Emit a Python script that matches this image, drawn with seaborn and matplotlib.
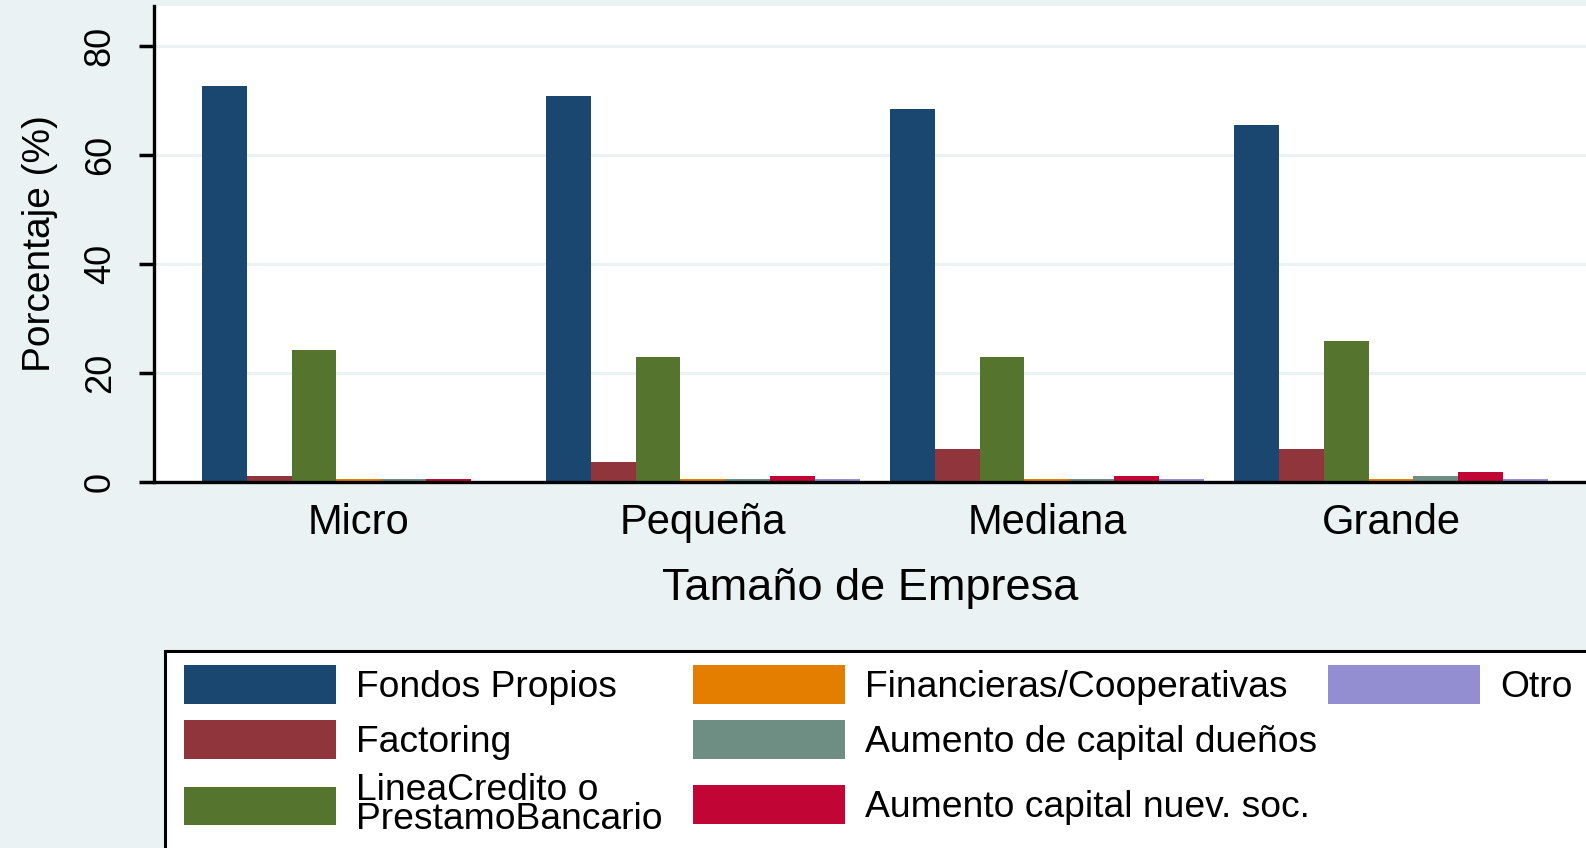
import matplotlib
matplotlib.use("Agg")
import matplotlib.pyplot as plt
from matplotlib.patches import Patch, Rectangle
import pandas as pd
import seaborn as sns

matplotlib.rc('font', family=['Liberation Sans', 'DejaVu Sans'])

# data
tamanos = ['Micro', 'Pequeña', 'Mediana', 'Grande']
fuentes = ['Fondos Propios', 'Factoring', 'LineaCredito o\nPrestamoBancario',
           'Financieras/Cooperativas', 'Aumento de capital dueños',
           'Aumento capital nuev. soc.', 'Otro']
fondos_propios = [72.6, 70.8, 68.4, 65.4]
factoring = [1.1, 3.5, 5.9, 5.9]
linea_credito = [24.2, 22.9, 22.9, 25.8]
financieras = [0.5, 0.5, 0.5, 0.5]
aumento_duenos = [0.5, 0.5, 0.5, 1.1]
aumento_nuev_soc = [0.5, 1.1, 1.1, 1.8]
otro = [0.0, 0.5, 0.5, 0.5]
yticks = [0, 20, 40, 60, 80]

series = [fondos_propios, factoring, linea_credito, financieras,
          aumento_duenos, aumento_nuev_soc, otro]
colores = ['#1A476F', '#90353B', '#55752F', '#E37E00',
           '#6E8E84', '#C10534', '#938DD2']

rows = []
for fuente, valores in zip(fuentes, series):
    for tam, v in zip(tamanos, valores):
        rows.append({'tamano': tam, 'fuente': fuente, 'pct': v})
df = pd.DataFrame(rows)

W, H = 1586, 848
bg = '#EAF2F3'
fig = plt.figure(figsize=(W / 100, H / 100), dpi=100, facecolor=bg)
ax = fig.add_axes([153.5 / W, 1 - 481.5 / H, 1 - 153.5 / W, (481.5 - 6) / H])
ax.set_facecolor('white')

sns.barplot(data=df, x='tamano', y='pct', hue='fuente', order=tamanos,
            hue_order=fuentes, palette=colores, saturation=1, width=0.913,
            gap=0, linewidth=0, legend=False, ax=ax)

ax.set_xlim(-0.597, 3.567)
ax.set_ylim(0, 87.25)
ax.set_yticks(yticks)
ax.yaxis.grid(True, color=bg, linewidth=2.2)
ax.set_axisbelow(True)

for s in ['top', 'right']:
    ax.spines[s].set_visible(False)
for s in ['left', 'bottom']:
    ax.spines[s].set_linewidth(2.4)
    ax.spines[s].set_color('black')

ax.tick_params(axis='y', length=10.8, width=2.5, pad=15, labelsize=26,
               labelrotation=90)
for lab in ax.get_yticklabels():
    lab.set_va('center')
ax.tick_params(axis='x', length=0, pad=15.5, labelsize=30)

ax.set_ylabel('Porcentaje (%)', fontsize=28, labelpad=18)
ax.set_xlabel('Tamaño de Empresa', fontsize=32.5, labelpad=18)

# legend box (runs off the right and bottom edges, as in the reference)
fig.add_artist(Rectangle((165 / W, 1 - 870 / H), (1620 - 165) / W, (870 - 650.5) / H,
                         transform=fig.transFigure, facecolor='white',
                         edgecolor='black', linewidth=2.2, zorder=0))

fs = 26.8
fs_px = fs * 100 / 72
key_x = [184, 693, 1328]
key_y = [685, 740, 805]
orden = [(0, 0), (0, 1), (0, 2), (1, 0), (1, 1), (1, 2), (2, 0)]
for (col, row), fuente, color in zip(orden, fuentes, colores):
    leg = fig.legend([Patch(facecolor=color, edgecolor='none')], [fuente],
                     loc='center left',
                     bbox_to_anchor=(key_x[col] / W, 1 - key_y[row] / H),
                     frameon=False, fontsize=fs, borderpad=0, borderaxespad=0,
                     handlelength=152 / fs_px, handleheight=45 / fs_px,
                     handletextpad=20 / fs_px)
    for t in leg.get_texts():
        t.set_linespacing(0.8)

fig.savefig('out.png', dpi=100, facecolor=bg)
plt.close(fig)
